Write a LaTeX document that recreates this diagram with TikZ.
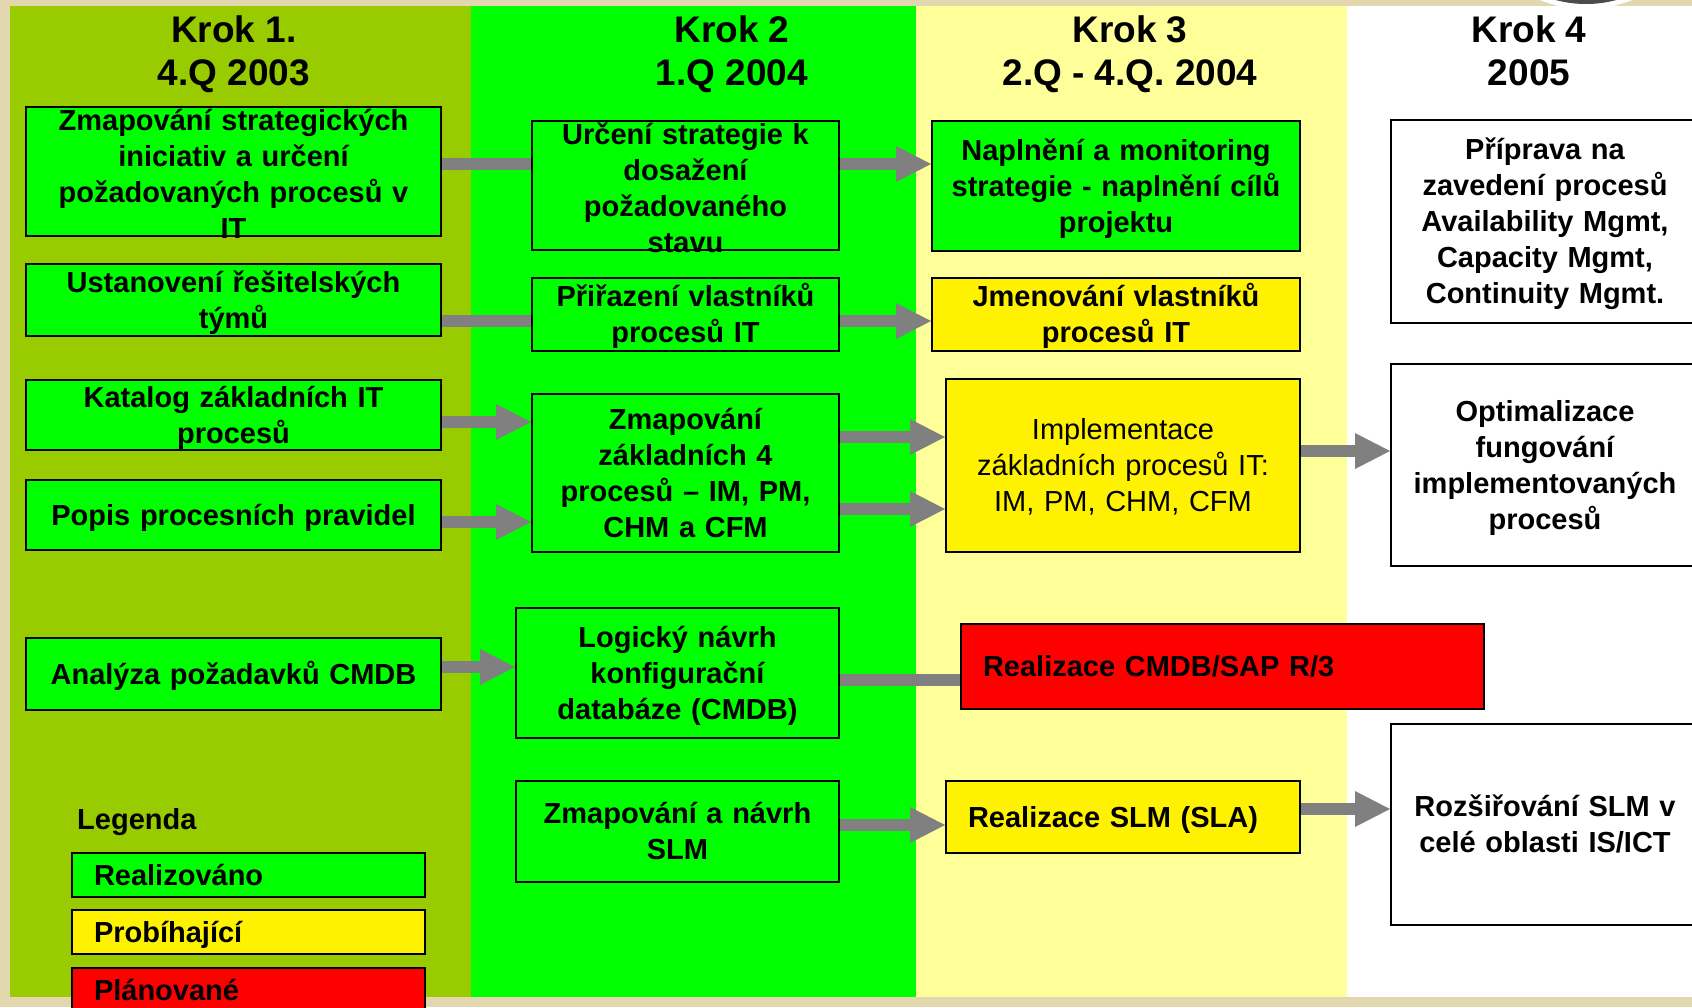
\documentclass[tikz,border=0pt]{standalone}
\usepackage{fontspec}
\setmainfont{Liberation Sans}
\usetikzlibrary{arrows.meta}

\definecolor{beige}{HTML}{E2D7AE}
\definecolor{olivecol}{HTML}{99CC00}
\definecolor{limecol}{HTML}{00FF00}
\definecolor{palecol}{HTML}{FFFF99}
\definecolor{arrowgrey}{HTML}{808080}

\newcommand\krokfont{\fontsize{37}{43}\selectfont\bfseries}
\newcommand\cellfont{\fontsize{29}{36}\selectfont\bfseries}

\begin{document}
\begin{tikzpicture}[x=1pt, y=-1pt,
    krok/.style={font=\krokfont, align=center, anchor=base, inner sep=0pt},
    cell/.style={draw=black, line width=2pt, inner sep=0pt, align=center, font=\cellfont},
    lines/.code={\pgfmathsetlengthmacro\celldepth{#1*36pt-30pt}\tikzset{text height=26pt, text depth=\celldepth}},
    leftcell/.style={cell, align=left, inner xsep=22pt, lines=1},
    flow/.style={draw=arrowgrey, line width=12pt, -{Triangle[length=35pt, width=36pt, line width=0pt]}},
    bar/.style={draw=arrowgrey, line width=12pt}]
    \useasboundingbox (0,0) rectangle (1692,1007);
    \clip (0,0) rectangle (1692,1007);

    %   Background, badge at the top and the four columns
    \fill[beige] (0,0) rectangle (1692,1007);
    \fill[white] (1586,-113) circle (122);
    \fill[gray!60!black] (1586,-113) circle (117);
    \fill[olivecol] (10,6) rectangle (471,997);
    \fill[limecol] (471,6) rectangle (916,997);
    \fill[palecol] (916,6) rectangle (1347,997);
    \fill[white] (1347,6) rectangle (1692,997);

    %   Column headers
    \node[krok] (krok1) at (234,85) {Krok 1.\\4.Q 2003};
    \node[krok] (krok2) at (732,85) {Krok 2\\1.Q 2004};
    \node[krok] (krok3) at (1130,85) {Krok 3\\2.Q - 4.Q. 2004};
    \node[krok] (krok4) at (1529,85) {Krok 4\\2005};

    %   Krok 1
    \node[cell, fill=limecol, text width=415pt, minimum height=129pt, text height=19pt, text depth=101pt] (zmapIT) at (233.5,171.5) {Zmapování strategických\\iniciativ a určení\\požadovaných procesů v\\IT};
    \node[cell, fill=limecol, text width=415pt, minimum height=72pt, lines=2] (tymy) at (233.5,300) {Ustanovení řešitelských\\týmů};
    \node[cell, fill=limecol, text width=415pt, minimum height=70pt, lines=2] (katalog) at (233.5,415) {Katalog základních IT\\procesů};
    \node[cell, fill=limecol, text width=415pt, minimum height=70pt, lines=1] (pravidla) at (233.5,515) {Popis procesních pravidel};
    \node[cell, fill=limecol, text width=415pt, minimum height=72pt, lines=1] (analyza) at (233.5,674) {Analýza požadavků CMDB};

    %   Krok 2
    \node[cell, fill=limecol, text width=307pt, minimum height=129pt, text height=19pt, text depth=101pt] (strategie) at (685.5,185.5) {Určení strategie k\\dosažení\\požadovaného\\stavu};
    \node[cell, fill=limecol, text width=307pt, minimum height=73pt, lines=2] (vlastnici) at (685.5,314.5) {Přiřazení vlastníků\\procesů IT};
    \node[cell, fill=limecol, text width=307pt, minimum height=158pt, lines=4] (zaklad) at (685.5,473) {Zmapování\\základních 4\\procesů – IM, PM,\\CHM a CFM};
    \node[cell, fill=limecol, text width=323pt, minimum height=130pt, lines=3] (logicky) at (677.5,673) {Logický návrh\\konfigurační\\databáze (CMDB)};
    \node[cell, fill=limecol, text width=323pt, minimum height=101pt, lines=2] (navrhSLM) at (677.5,831.5) {Zmapování a návrh\\SLM};

    %   Krok 3
    \node[cell, fill=limecol, text width=368pt, minimum height=130pt, lines=3] (naplneni) at (1116,186) {Naplnění a monitoring\\strategie - naplnění cílů\\projektu};
    \node[cell, fill=yellow, text width=368pt, minimum height=73pt, lines=2] (jmenovani) at (1116,314.5) {Jmenování vlastníků\\procesů IT};
    \node[cell, fill=yellow, text width=354pt, minimum height=173pt, lines=3, font=\cellfont\mdseries] (impl) at (1123,465.5) {Implementace\\základních procesů IT:\\IM, PM, CHM, CFM};
    \node[leftcell, fill=red, text width=479pt, minimum height=85pt] (cmdb) at (1222.5,666.5) {Realizace CMDB/SAP R/3};
    \node[leftcell, fill=yellow, text width=310pt, minimum height=72pt] (realSLM) at (1123,817) {Realizace SLM (SLA)};

    %   Krok 4
    \node[cell, fill=white, text width=308pt, minimum height=203pt, lines=5] (priprava) at (1545,221.5) {Příprava na\\zavedení procesů\\Availability Mgmt,\\Capacity Mgmt,\\Continuity Mgmt.};
    \node[cell, fill=white, text width=308pt, minimum height=202pt, lines=4] (optim) at (1545,465) {Optimalizace\\fungování\\implementovaných\\procesů};
    \node[cell, fill=white, text width=308pt, minimum height=201pt, lines=2] (rozsir) at (1545,824.5) {Rozšiřování SLM v\\celé oblasti IS/ICT};

    %   Connectors
    \draw[bar] (zmapIT.east |- 0,164) -- (strategie.west |- 0,164);
    \draw[flow] (strategie.east |- 0,164) -- (naplneni.west |- 0,164);
    \draw[bar] (tymy.east |- 0,321) -- (vlastnici.west |- 0,321);
    \draw[flow] (vlastnici.east |- 0,321) -- (jmenovani.west |- 0,321);
    \draw[flow] (katalog.east |- 0,422) -- (zaklad.west |- 0,422);
    \draw[flow] (pravidla.east |- 0,522) -- (zaklad.west |- 0,522);
    \draw[flow] (zaklad.east |- 0,437) -- (impl.west |- 0,437);
    \draw[flow] (zaklad.east |- 0,509) -- (impl.west |- 0,509);
    \draw[flow] (impl.east |- 0,451) -- (optim.west |- 0,451);
    \draw[flow] (analyza.east |- 0,667) -- (logicky.west |- 0,667);
    \draw[bar] (logicky.east |- 0,680) -- (cmdb.west |- 0,680);
    \draw[flow] (navrhSLM.east |- 0,825) -- (realSLM.west |- 0,825);
    \draw[flow] (realSLM.east |- 0,809) -- (rozsir.west |- 0,809);

    %   Legend
    \node[font=\cellfont, anchor=base west, inner sep=0pt] (legenda) at (77,829) {Legenda};
    \node[leftcell, fill=limecol, text width=309pt, minimum height=44pt] (realizovano) at (248.5,875) {Realizováno};
    \node[leftcell, fill=yellow, text width=309pt, minimum height=44pt] (probihajici) at (248.5,932) {Probíhající};
    \node[leftcell, fill=red, text width=309pt, minimum height=44pt] (planovane) at (248.5,990) {Plánované};
\end{tikzpicture}
\end{document}
